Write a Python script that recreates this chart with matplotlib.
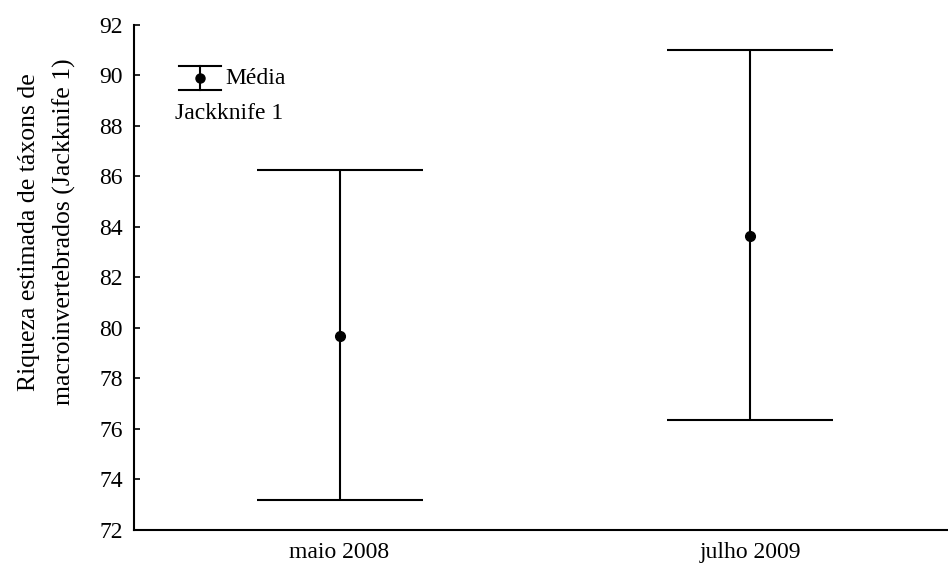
import matplotlib
matplotlib.use("Agg")
from matplotlib import pyplot as plt

# jackknife 1 richness estimates per sampling campaign
campanhas = ["maio 2008", "julho 2009"]
media = [79.7, 83.65]
limite_inf = [73.2, 76.35]
limite_sup = [86.25, 91.0]

plt.rcParams['font.family'] = ['Liberation Serif', 'DejaVu Serif']

fig = plt.figure(figsize=(9.48, 5.64), dpi=100)
ax = fig.add_axes([0.1414, 0.0603, 0.867, 0.8954])

x = list(range(len(campanhas)))
err_low = [m - l for m, l in zip(media, limite_inf)]
err_high = [u - m for m, u in zip(media, limite_sup)]
ax.errorbar(x, media, yerr=[err_low, err_high], fmt='o', color='black',
            ecolor='black', elinewidth=1.5, capsize=60, capthick=1.5,
            markersize=7)

ax.set_xlim(-0.5, 1.5)
ax.set_ylim(72, 92)
ax.set_yticks(range(72, 93, 2))
ax.set_xticks(x)
ax.set_xticklabels(campanhas, fontsize=17)
ax.tick_params(axis='x', length=0, pad=9)
ax.tick_params(axis='y', labelsize=17, length=4, width=1.2, direction='in', pad=8)
ax.spines['top'].set_visible(False)
ax.spines['right'].set_visible(False)
ax.spines['left'].set_linewidth(1.5)
ax.spines['bottom'].set_linewidth(1.5)
ax.set_ylabel("Riqueza estimada de táxons de\nmacroinvertebrados (Jackknife 1)",
              fontsize=18.5, linespacing=1.7)
ax.yaxis.set_label_coords(-0.0705, 0.59)

# legend symbol drawn by hand
lx = 0.0803
ax.plot([lx - 0.026, lx + 0.026], [0.9188, 0.9188], color='black', lw=1.5, transform=ax.transAxes)
ax.plot([lx - 0.026, lx + 0.026], [0.8713, 0.8713], color='black', lw=1.5, transform=ax.transAxes)
ax.plot([lx, lx], [0.8713, 0.9188], color='black', lw=1.5, transform=ax.transAxes)
ax.plot([lx], [0.895], 'o', color='black', markersize=6.5, transform=ax.transAxes)
ax.text(0.1107, 0.895, "Média", fontsize=17, va='center', ha='left', transform=ax.transAxes)
ax.text(0.0499, 0.8257, "Jackknife 1", fontsize=17, va='center', ha='left', transform=ax.transAxes)

fig.savefig("out.png", dpi=100)
